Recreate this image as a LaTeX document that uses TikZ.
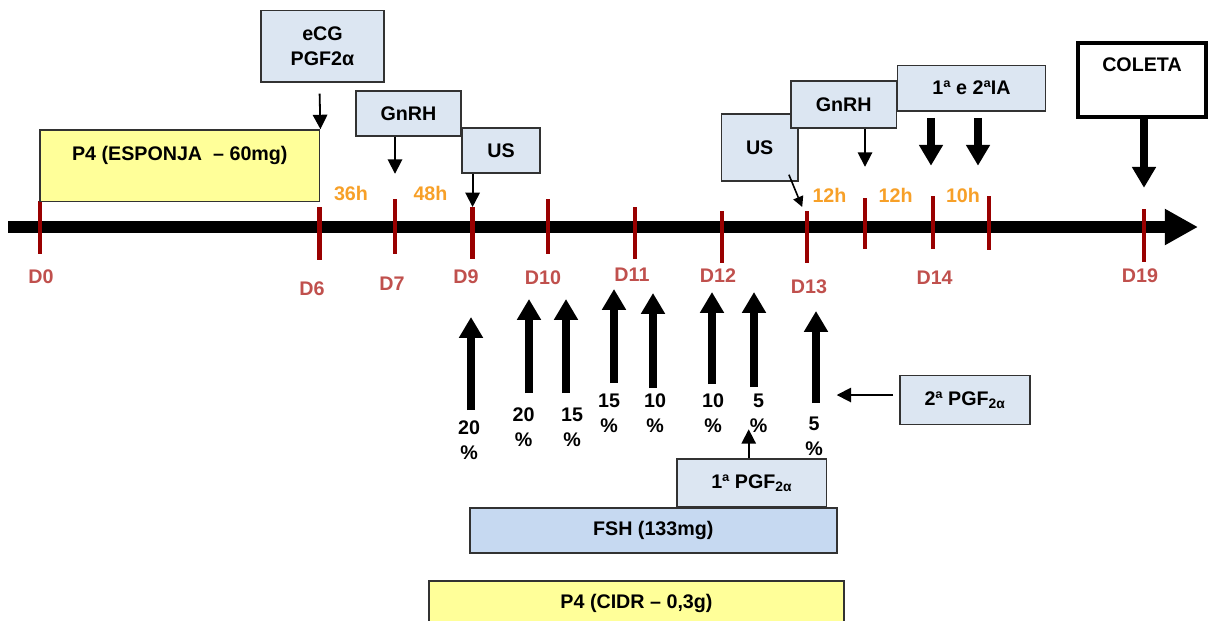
\documentclass[tikz,border=0pt]{standalone}
\usepackage{fontspec}
\setmainfont{Liberation Sans}
\usetikzlibrary{arrows.meta}
\definecolor{paleblue}{RGB}{220,230,242}
\definecolor{fshblue}{RGB}{198,217,241}
\definecolor{paleyellow}{RGB}{255,255,153}
\definecolor{tickred}{RGB}{153,0,0}
\definecolor{dayred}{RGB}{192,80,77}
\definecolor{hourorange}{RGB}{247,160,40}
\definecolor{boxline}{RGB}{50,50,50}
\tikzset{
  box/.style={draw=boxline,fill=#1,line width=0.04cm,inner sep=0pt,align=center,
    font=\fontsize{14}{17.7}\selectfont\bfseries},
  box/.default=paleblue,
  daytick/.style={draw=tickred,line width=0.11cm},
  day/.style={text=dayred,font=\fontsize{14}{17}\selectfont\bfseries},
  hour/.style={text=hourorange,font=\fontsize{14}{17}\selectfont\bfseries},
  pct/.style={align=center,inner sep=0pt,font=\fontsize{14}{17.7}\selectfont\bfseries},
  thinarrow/.style={-{Triangle[length=0.36cm,width=0.36cm]},line width=0.045cm},
  smallarrow/.style={-{Triangle[length=0.26cm,width=0.26cm]},line width=0.04cm},
  fatarrow/.style={-{Triangle[length=0.52cm,width=0.57cm]},line width=0.2cm},
  timeline/.style={-{Triangle[length=0.83cm,width=0.85cm]},line width=0.28cm},
}
\begin{document}
\begin{tikzpicture}[x=0.025cm,y=-0.025cm]
\useasboundingbox (0,0) rectangle (1210,620);

% time line
\coordinate (start) at (8.4,227);
\coordinate (end) at (1198,227);
\draw[timeline] (start) -- (end);

% days
\foreach \n/\x/\a/\b/\lx/\ly in {0/40/201/254/41/277, 6/319.6/207/260/312/289,
    7/395/199/254/392/284, 9/472.6/207/259/466/277, 10/548/199/254/543/278,
    11/635/207/259/632/275, 12/721.8/211/263/718/276, 13/807/211/263/809/287,
    14/933/196/249/934.6/278, 19/1144/209/262/1140/276}{
  \coordinate (d\n) at (\x,\a);
  \coordinate (f\n) at (\x,\b);
  \draw[daytick] (d\n) -- (f\n);
  \node[day] (lab\n) at (\lx,\ly) {D\n};
}
\coordinate (h1) at (865,198);
\coordinate (h2) at (989,196);
\draw[daytick] (h1) -- (865,249);
\draw[daytick] (h2) -- (989,250);

% hours
\node[hour] (t36) at (351,193) {36h};
\node[hour] (t48) at (430.5,193) {48h};
\node[hour] (t12a) at (829.5,195) {12h};
\node[hour] (t12b) at (895.7,195) {12h};
\node[hour] (t10) at (963,195) {10h};

% upper boxes
\node[box,minimum width=3.075cm,minimum height=1.775cm] (ecg) at (322.5,46.2) {eCG\\PGF2α};
\node[box=paleyellow,minimum width=6.99cm,minimum height=1.79cm,text depth=0.64cm] (esponja) at (179.8,165.8) {P4 (ESPONJA~ – 60mg)};
\node[box,minimum width=2.625cm,minimum height=1.12cm] (gnrh1) at (408.5,113.3) {GnRH};
\node[box,minimum width=1.95cm,minimum height=1.12cm] (us1) at (501,150.3) {US};
\node[box,minimum width=1.9cm,minimum height=1.67cm] (us2) at (759.7,147.3) {US};
\node[box,minimum width=2.64cm,minimum height=1.175cm] (gnrh2) at (843.7,104.5) {GnRH};
\node[box,minimum width=3.7cm,minimum height=1.125cm] (ia) at (971.5,88.2) {1ª e 2ªIA};
\node[box=white,draw=black,line width=0.11cm,minimum width=3.2cm,minimum height=1.85cm,text depth=0.75cm] (coleta) at (1142,80) {COLETA};

\draw[thinarrow] ([yshift=-0.28cm]ecg.south -| d6) -- (esponja.north east);
\draw[thinarrow,shorten >=0.63cm] (gnrh1.south -| d7) -- (d7);
\draw[thinarrow] (us1.south -| d9) -- (d9);
\draw[smallarrow] ([shift={(-0.24cm,0.17cm)}]us2.south east) -- ([shift={(-0.12cm,0.1cm)}]d13);
\draw[thinarrow,shorten >=0.78cm] (gnrh2.south -| h1) -- (h1);
\coordinate (ia1) at (931,165.7);
\coordinate (ia2) at (978,165.7);
\foreach \i in {1,2}
  \draw[fatarrow] ([yshift=-0.16cm]ia.south -| ia\i) -- (ia\i);
\draw[fatarrow,shorten >=0.53cm] (coleta.south -| d19) -- (d19);

% FSH doses
\foreach \i/\x/\b/\t/\lx/\ly/\v in {1/471/410/317/469/440.5/20, 2/529/393/299/523.5/427/20,
    3/566/393/299/572/427/15, 4/614/383/289/609/413.5/15, 5/653/388/293/655/413.5/10,
    6/712/384/292/713/413.5/10, 7/754/387/292/758.5/413.5/5, 8/816/403/311/814/436.7/5}{
  \node[pct] (pct\i) at (\lx,\ly) {\v\\\%};
  \coordinate (lo\i) at (\x,\b);
  \coordinate (hi\i) at (\x,\t);
  \draw[fatarrow] (lo\i) -- (hi\i);
}

% lower boxes
\node[box,minimum width=3.74cm,minimum height=1.19cm] (pgf1) at (751.8,482.8) {1ª PGF\textsubscript{2α}};
\node[box=fshblue,minimum width=9.17cm,minimum height=1.125cm] (fsh) at (653.3,530.2) {FSH (133mg)};
\node[box=paleyellow,minimum width=10.375cm,minimum height=1.2cm,text depth=0.2cm] (cidr) at (636.5,605) {P4 (CIDR – 0,3g)};
\node[box,minimum width=3.25cm,minimum height=1.225cm] (pgf2) at (965,399.8) {2ª PGF\textsubscript{2α}};

\coordinate (pgf1tip) at (748.7,429.3);
\draw[thinarrow] (pgf1.north -| pgf1tip) -- (pgf1tip);
\coordinate (pgf2tip) at (836.7,395);
\draw[thinarrow] ([xshift=-0.15cm]pgf2.west |- pgf2tip) -- (pgf2tip);
\end{tikzpicture}
\end{document}
